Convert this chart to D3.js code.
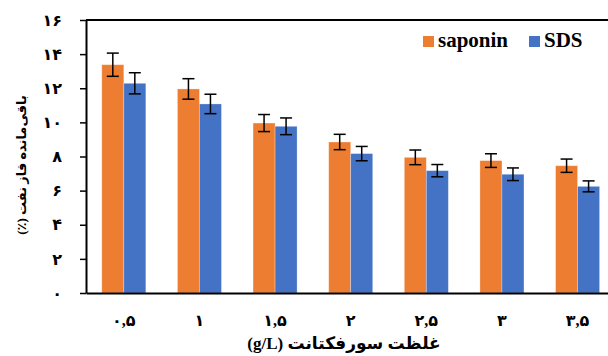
<!DOCTYPE html>
<html><head><meta charset="utf-8">
<script src="https://cdn.jsdelivr.net/npm/d3@7"></script>
<style>body{margin:0;background:#fff}svg{display:block}</style>
</head><body>
<svg id="c" width="608" height="356"></svg>
<script>
const categories = ["۰,۵","۱","۱,۵","۲","۲,۵","۳","۳,۵"];
const seriesNames = ["saponin","SDS"];
const saponin = [13.38, 11.96, 9.96, 8.85, 7.95, 7.76, 7.46];
const saponinErr = [0.68, 0.60, 0.50, 0.45, 0.43, 0.40, 0.39];
const sds = [12.29, 11.08, 9.77, 8.17, 7.17, 6.96, 6.25];
const sdsErr = [0.62, 0.57, 0.49, 0.42, 0.36, 0.37, 0.32];
const yTicks = [0,2,4,6,8,10,12,14,16];
const yTickLabels = ["۰","۲","۴","۶","۸","۱۰","۱۲","۱۴","۱۶"];
const colors = ["#ED7D31","#4472C4"];
const yTitle = "باقی‌مانده فاز نفت (٪)";
const xTitle = "غلظت سورفکتانت (g/L)";

(function(){
const svg = d3.select("#c");
const pLeft = 86, pTop = 20, pBottom = 293, pRight = 615.4;
const font = "'Liberation Serif','DejaVu Sans',serif";

const x = d3.scaleBand().domain(categories).range([pLeft, pRight]).paddingInner(0.418).paddingOuter(0.209);
const xs = d3.scaleBand().domain(seriesNames).range([0, x.bandwidth()]);
const y = d3.scaleLinear().domain([0,16]).range([pBottom, pTop]);

const data = categories.map((c,i)=>({c, vals:[{s:"saponin",v:saponin[i],e:saponinErr[i]},{s:"SDS",v:sds[i],e:sdsErr[i]}]}));

svg.append("line").attr("x1",pLeft).attr("x2",608).attr("y1",pTop).attr("y2",pTop).attr("stroke","#000").attr("stroke-width",2);

const g = svg.selectAll("g.grp").data(data).enter().append("g").attr("class","grp").attr("transform",d=>`translate(${x(d.c)},0)`);
g.selectAll("rect").data(d=>d.vals).enter().append("rect")
  .attr("x",d=>xs(d.s)).attr("width",xs.bandwidth())
  .attr("y",d=>y(d.v)).attr("height",d=>y(0)-y(d.v))
  .attr("fill",(d,i)=>colors[i]).attr("stroke","#fff").attr("stroke-opacity",0.35).attr("stroke-width",0.8);
const eb = g.selectAll("g.eb").data(d=>d.vals).enter().append("g").attr("class","eb").attr("stroke","#000").attr("stroke-width",1.5);
const cx = d=>xs(d.s)+xs.bandwidth()/2;
eb.append("line").attr("x1",cx).attr("x2",cx).attr("y1",d=>y(d.v+d.e)).attr("y2",d=>y(d.v-d.e));
eb.append("line").attr("x1",d=>cx(d)-6).attr("x2",d=>cx(d)+6).attr("y1",d=>y(d.v+d.e)).attr("y2",d=>y(d.v+d.e));
eb.append("line").attr("x1",d=>cx(d)-6).attr("x2",d=>cx(d)+6).attr("y1",d=>y(d.v-d.e)).attr("y2",d=>y(d.v-d.e));

const ya = svg.append("g").attr("transform",`translate(${pLeft},0)`)
  .call(d3.axisLeft(y).tickValues(yTicks).tickFormat((d,i)=>yTickLabels[i]).tickSizeInner(6).tickSizeOuter(0).tickPadding(18));
ya.select(".domain").attr("stroke-width",2);
ya.selectAll(".tick line").attr("stroke-width",1.5);
ya.selectAll("text").attr("font-family",font).attr("font-weight","bold").attr("font-size",16).attr("fill","#000");

const xa = svg.append("g").attr("transform",`translate(0,${pBottom})`)
  .call(d3.axisBottom(x).tickSize(0).tickPadding(22));
xa.select(".domain").attr("stroke-width",2);
xa.selectAll("text").attr("font-family",font).attr("font-weight","bold").attr("font-size",16).attr("fill","#000");

svg.append("text").attr("transform","translate(23,165) rotate(-90)").attr("text-anchor","middle").attr("dominant-baseline","middle")
  .attr("font-family",font).attr("font-weight","bold").attr("font-size",13).attr("direction","rtl").text(yTitle);
svg.append("text").attr("x",344).attr("y",345).attr("text-anchor","middle").attr("dominant-baseline","middle")
  .attr("font-family",font).attr("font-weight","bold").attr("font-size",17).attr("direction","rtl").text(xTitle);

const legX = [423, 529];
const lg = svg.selectAll("g.leg").data(seriesNames).enter().append("g").attr("class","leg").attr("transform",(d,i)=>`translate(${legX[i]},36)`);
lg.append("rect").attr("width",11).attr("height",11).attr("fill",(d,i)=>colors[i]);
lg.append("text").attr("x",15).attr("y",11).attr("font-family","'Liberation Serif',serif").attr("font-weight","bold").attr("font-size",21).text(d=>d);
})();
</script>
</body></html>
